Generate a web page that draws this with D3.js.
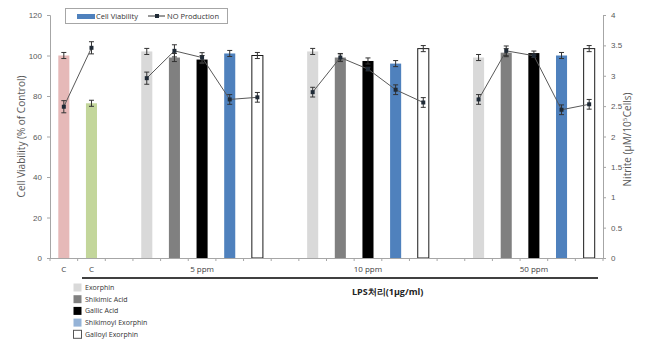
<!DOCTYPE html>
<html>
<head>
<meta charset="utf-8">
<script src="https://cdn.jsdelivr.net/npm/d3@7"></script>
<style>
  body { margin: 0; background: #fff; }
  svg { display: block; font-family: "Open Sans", "Noto Sans", sans-serif; }
</style>
</head>
<body>
<svg id="chart" width="668" height="340"></svg>
<script>
// x categories (blank entries are the gaps between groups)
const categories = ["C", "C", "",
  "Exorphin", "Shikimic Acid", "Gallic Acid", "Shikimoyl Exorphin", "Galloyl Exorphin", "",
  "Exorphin", "Shikimic Acid", "Gallic Acid", "Shikimoyl Exorphin", "Galloyl Exorphin", "",
  "Exorphin", "Shikimic Acid", "Gallic Acid", "Shikimoyl Exorphin", "Galloyl Exorphin"];
const kinds = ["control", "lps", "",
  "Exorphin", "Shikimic Acid", "Gallic Acid", "Shikimoyl Exorphin", "Galloyl Exorphin", "",
  "Exorphin", "Shikimic Acid", "Gallic Acid", "Shikimoyl Exorphin", "Galloyl Exorphin", "",
  "Exorphin", "Shikimic Acid", "Gallic Acid", "Shikimoyl Exorphin", "Galloyl Exorphin"];

const viability = [100, 76.4, null, 102, 99, 98, 101, 100, null, 102, 99, 97.3, 96, 103.4, null, 99, 101.4, 101.2, 100, 103.4];
const viabilityErr = [1.5, 1.5, null, 1.5, 2, 2, 1.5, 1.5, null, 1.5, 2, 1.5, 1.5, 1.5, null, 1.5, 2, 1, 1.5, 1.5];
const nitrite = [2.49, 3.46, null, 2.96, 3.41, 3.30, 2.61, 2.645, null, 2.73, 3.30, 3.11, 2.77, 2.56, null, 2.61, 3.41, 3.33, 2.44, 2.53];
const nitriteErr = [0.1, 0.1, null, 0.1, 0.1, 0.08, 0.08, 0.08, null, 0.08, 0.06, 0.03, 0.08, 0.08, null, 0.08, 0.08, 0.03, 0.08, 0.08];

const groups = ["5 ppm", "10 ppm", "50 ppm"];
const groupCenters = [5, 11, 17];

const leftTicks = [0, 20, 40, 60, 80, 100, 120];
const rightTicks = [0, 0.5, 1, 1.5, 2, 2.5, 3, 3.5, 4];

const legendItems = ["Exorphin", "Shikimic Acid", "Gallic Acid", "Shikimoyl Exorphin", "Galloyl Exorphin"];

const fills = {
  control: "#e6b9b8",
  lps: "#c3d69b",
  "Exorphin": "#d9d9d9",
  "Shikimic Acid": "#808080",
  "Gallic Acid": "#000000",
  "Shikimoyl Exorphin": "#4f81bd",
  "Galloyl Exorphin": "#ffffff"
};
const legendFills = Object.assign({}, fills, { "Shikimoyl Exorphin": "#95b3d7" });

const svg = d3.select("#chart");
const mLeft = 50, mRight = 603, mTop = 15, mBottom = 258;
const axisColor = "#a6a6a6";
const textColor = "#595959";

const x = d3.scaleBand().domain(d3.range(categories.length)).range([mLeft, mRight]).padding(0);
const yL = d3.scaleLinear().domain([0, 120]).range([mBottom, mTop]);
const yR = d3.scaleLinear().domain([0, 4]).range([mBottom, mTop]);
const barW = x.bandwidth() * 0.4;

// bars
const idx = d3.range(categories.length).filter(i => viability[i] != null);
svg.append("g").selectAll("rect")
  .data(idx)
  .enter()
  .append("rect")
  .attr("x", i => x(i) + (x.bandwidth() - barW) / 2)
  .attr("y", i => yL(viability[i]))
  .attr("width", barW)
  .attr("height", i => yL(0) - yL(viability[i]))
  .attr("fill", i => fills[kinds[i]])
  .attr("stroke", i => kinds[i] === "Galloyl Exorphin" ? "#1a1a1a" : "none")
  .attr("stroke-width", 1);

// error bars
const drawErr = (cx, yTop, yBot) => {
  const g = svg.append("g").attr("stroke", "#333").attr("stroke-width", 1);
  g.append("line").attr("x1", cx).attr("x2", cx).attr("y1", yTop).attr("y2", yBot);
  g.append("line").attr("x1", cx - 2.5).attr("x2", cx + 2.5).attr("y1", yTop).attr("y2", yTop);
  g.append("line").attr("x1", cx - 2.5).attr("x2", cx + 2.5).attr("y1", yBot).attr("y2", yBot);
};
idx.forEach(i => {
  const cx = x(i) + x.bandwidth() / 2;
  drawErr(cx, yL(viability[i] + viabilityErr[i]), yL(viability[i] - viabilityErr[i]));
});

// axes
const axL = svg.append("g").attr("transform", `translate(${mLeft},0)`)
  .call(d3.axisLeft(yL).tickValues(leftTicks).tickSize(3).tickPadding(5));
const axR = svg.append("g").attr("transform", `translate(${mRight},0)`)
  .call(d3.axisRight(yR).tickValues(rightTicks).tickSize(3).tickPadding(5).tickFormat(d3.format("")));
[axL, axR].forEach(a => {
  a.select(".domain").attr("stroke", axisColor);
  a.selectAll(".tick line").attr("stroke", axisColor);
  a.selectAll(".tick text").attr("fill", textColor).attr("font-size", 8);
});

// x axis line with boundary ticks
const xg = svg.append("g");
xg.append("line").attr("x1", mLeft).attr("x2", mRight).attr("y1", mBottom + 0.5).attr("y2", mBottom + 0.5).attr("stroke", axisColor);
xg.selectAll("line.tk")
  .data(d3.range(categories.length + 1))
  .enter()
  .append("line")
  .attr("class", "tk")
  .attr("x1", i => i < categories.length ? x(i) : mRight)
  .attr("x2", i => i < categories.length ? x(i) : mRight)
  .attr("y1", mBottom)
  .attr("y2", mBottom + 3)
  .attr("stroke", axisColor);

// nitrite line
const line = d3.line()
  .defined(i => nitrite[i] != null)
  .x(i => x(i) + x.bandwidth() / 2)
  .y(i => yR(nitrite[i]));
svg.append("path")
  .datum(d3.range(categories.length))
  .attr("d", line)
  .attr("fill", "none")
  .attr("stroke", "#595959")
  .attr("stroke-width", 1);
d3.range(categories.length).filter(i => nitrite[i] != null).forEach(i => {
  const cx = x(i) + x.bandwidth() / 2;
  drawErr(cx, yR(nitrite[i] + nitriteErr[i]), yR(nitrite[i] - nitriteErr[i]));
});
svg.append("g").selectAll("rect")
  .data(d3.range(categories.length).filter(i => nitrite[i] != null))
  .enter()
  .append("rect")
  .attr("x", i => x(i) + x.bandwidth() / 2 - 2)
  .attr("y", i => yR(nitrite[i]) - 2)
  .attr("width", 4)
  .attr("height", 4)
  .attr("fill", "#1f2a36");

// category labels under axis
[0, 1].forEach(i => {
  svg.append("text")
    .attr("x", x(i) + x.bandwidth() / 2)
    .attr("y", 272)
    .attr("text-anchor", "middle")
    .attr("font-size", 8)
    .attr("fill", "#404040")
    .text(categories[i]);
});
groups.forEach((g, k) => {
  svg.append("text")
    .attr("x", x(groupCenters[k]) + x.bandwidth() / 2)
    .attr("y", 272)
    .attr("text-anchor", "middle")
    .attr("font-size", 8)
    .attr("fill", "#404040")
    .text(g);
});
svg.append("line").attr("x1", 82).attr("x2", 598).attr("y1", 278).attr("y2", 278)
  .attr("stroke", "#000").attr("stroke-width", 1.3);
svg.append("text")
  .attr("x", 352).attr("y", 295)
  .attr("font-size", 9).attr("font-weight", "bold").attr("fill", "#222")
  .text("LPS처리(1μg/ml)");

// axis titles
svg.append("text")
  .attr("transform", `translate(25,${(mTop + mBottom) / 2}) rotate(-90)`)
  .attr("text-anchor", "middle")
  .attr("font-size", 10)
  .attr("fill", textColor)
  .text("Cell Viability (% of Control)");
const rt = svg.append("text")
  .attr("transform", `translate(631,${(mTop + mBottom) / 2 + 3}) rotate(-90)`)
  .attr("text-anchor", "middle")
  .attr("font-size", 10)
  .attr("fill", textColor);
rt.append("tspan").text("Nitrite (μM/10");
rt.append("tspan").attr("font-size", 6).attr("dy", -4).text("5");
rt.append("tspan").attr("dy", 4).attr("dx", 0.5).text("Cells)");

// top legend
const lg = svg.append("g");
lg.append("rect").attr("x", 65.5).attr("y", 8.5).attr("width", 162).attr("height", 15)
  .attr("fill", "#fff").attr("stroke", axisColor);
lg.append("rect").attr("x", 77).attr("y", 14).attr("width", 18).attr("height", 5).attr("fill", fills["Shikimoyl Exorphin"]);
lg.append("text").attr("x", 96).attr("y", 19).attr("font-size", 7.5).attr("fill", "#333").text("Cell Viability");
lg.append("line").attr("x1", 148).attr("x2", 165).attr("y1", 16).attr("y2", 16).attr("stroke", "#333");
lg.append("rect").attr("x", 155).attr("y", 14).attr("width", 4).attr("height", 4).attr("fill", "#1f2a36");
lg.append("text").attr("x", 167).attr("y", 19).attr("font-size", 7.5).attr("fill", "#333").text("NO Production");

// bottom legend
const bl = svg.append("g");
legendItems.forEach((name, k) => {
  const cy = 287.5 + k * 11.7;
  bl.append("rect").attr("x", 73.5).attr("y", cy - 4).attr("width", 8).attr("height", 8)
    .attr("fill", legendFills[name])
    .attr("stroke", name === "Galloyl Exorphin" ? "#555" : "none");
  bl.append("text").attr("x", 85).attr("y", cy + 2.5).attr("font-size", 7).attr("fill", "#333").text(name);
});
</script>
</body>
</html>
